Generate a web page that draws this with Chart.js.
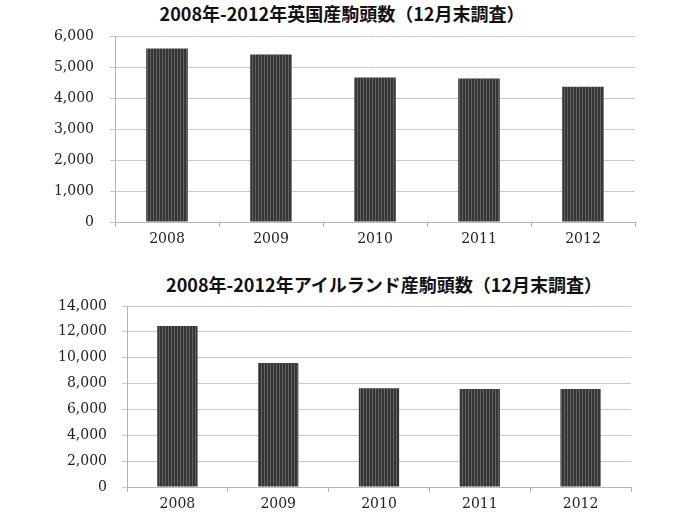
<!DOCTYPE html>
<html lang="ja">
<head>
<meta charset="utf-8">
<script src="https://cdn.jsdelivr.net/npm/chart.js@4"></script>
<style>
  html, body { margin: 0; padding: 0; background: #fff; }
  body { width: 693px; height: 520px; position: relative; overflow: hidden; }
  .title { position: absolute; font-family: "Noto Sans CJK JP", sans-serif; font-weight: bold;
           font-size: 18px; line-height: 20px; color: #111; white-space: nowrap; transform: translateX(-50%); }
  canvas { position: absolute; left: 0; }
</style>
</head>
<body>
<div class="title" id="t1" style="left:342px; top:3px;"></div>
<div class="title" id="t2" style="left:384px; top:274px;"></div>
<canvas id="c1" width="693" height="260" style="top:0;"></canvas>
<canvas id="c2" width="693" height="260" style="top:260px;"></canvas>
<script>
// ---- data ----
const years = ['2008', '2009', '2010', '2011', '2012'];
const ukCounts = [5600, 5400, 4660, 4630, 4360];
const irelandCounts = [12450, 9600, 7630, 7580, 7580];
const ukTitle = '2008年-2012年英国産駒頭数（12月末調査）';
const irelandTitle = '2008年-2012年アイルランド産駒頭数（12月末調査）';
const ukAxisMax = 6000, ukAxisStep = 1000;
const irelandAxisMax = 14000, irelandAxisStep = 2000;

document.getElementById('t1').textContent = ukTitle;
document.getElementById('t2').textContent = irelandTitle;

function stripePattern() {
  const p = document.createElement('canvas');
  p.width = 3; p.height = 4;
  const g = p.getContext('2d');
  g.fillStyle = '#363636'; g.fillRect(0, 0, 3, 4);
  g.fillStyle = '#626262'; g.fillRect(0, 0, 1, 4);
  return g.createPattern(p, 'repeat');
}

function makeChart(id, labels, values, max, step, plotLeft, plotRight, plotTop, plotBottom, yPad) {
  const W = 693, H = 260, padL = 10;
  return new Chart(document.getElementById(id), {
    type: 'bar',
    data: {
      labels: labels,
      datasets: [{
        data: values,
        backgroundColor: stripePattern(),
        borderWidth: 0,
        categoryPercentage: 1.0,
        barPercentage: 0.4
      }]
    },
    options: {
      responsive: false,
      animation: false,
      events: [],
      layout: { padding: { left: padL, right: W - plotRight, top: plotTop, bottom: 0 } },
      plugins: { legend: { display: false }, title: { display: false }, tooltip: { enabled: false } },
      scales: {
        x: {
          grid: { display: true, drawOnChartArea: false, drawTicks: true, tickLength: 5, color: '#b5b5b5', offset: true },
          border: { color: '#b5b5b5' },
          ticks: { font: { family: 'DejaVu Serif', size: 14 }, color: '#222', padding: 4, maxRotation: 0 },
          afterFit: s => { s.height = H - plotBottom; }
        },
        y: {
          min: 0, max: max,
          ticks: { stepSize: step, font: { family: 'DejaVu Serif', size: 14 }, color: '#222', padding: yPad },
          grid: { color: '#c8c8c8', tickLength: 5, drawTicks: true },
          border: { color: '#b5b5b5' },
          afterFit: s => { s.width = plotLeft - padL; }
        }
      }
    }
  });
}

makeChart('c1', years, ukCounts, ukAxisMax, ukAxisStep, 115, 635, 36, 222, 16);
makeChart('c2', years, irelandCounts, irelandAxisMax, irelandAxisStep, 127, 631, 46, 227, 15);
</script>
</body>
</html>
